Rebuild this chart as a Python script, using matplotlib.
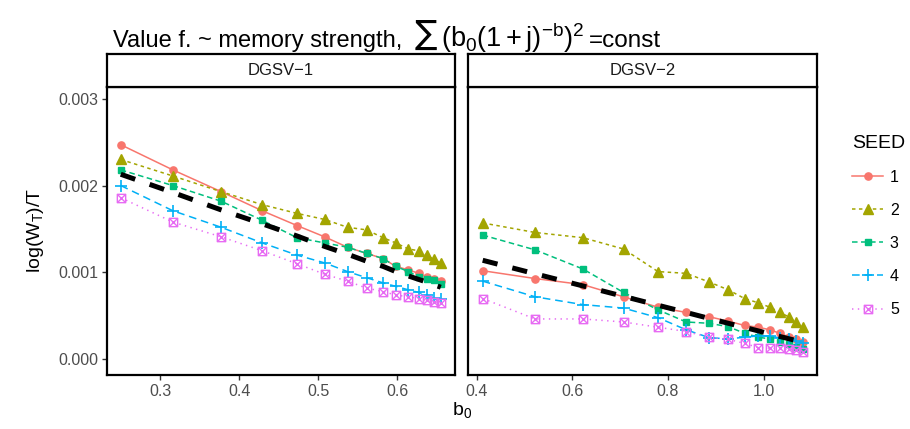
import matplotlib
matplotlib.use("Agg")
import matplotlib.pyplot as plt
from matplotlib.path import Path

plt.rcParams["font.family"] = ["Liberation Sans", "DejaVu Sans"]
plt.rcParams["mathtext.fontset"] = "custom"
plt.rcParams["mathtext.rm"] = "Liberation Sans"
plt.rcParams["mathtext.it"] = "Liberation Sans:italic"
plt.rcParams["mathtext.bf"] = "Liberation Sans:bold"
plt.rcParams["lines.scale_dashes"] = False

# values (y in units of 1e-3)
seeds = ["1", "2", "3", "4", "5"]
panels = ["DGSV\u22121", "DGSV\u22122"]

b0_dgsv1 = [0.250, 0.316, 0.377, 0.429, 0.473, 0.508, 0.537, 0.561,
            0.582, 0.598, 0.614, 0.627, 0.637, 0.646, 0.655]
b0_dgsv2 = [0.4125, 0.522, 0.622, 0.707, 0.779, 0.838, 0.886, 0.926,
            0.960, 0.989, 1.013, 1.034, 1.052, 1.068, 1.082]

dgsv1_seed1 = [2.47, 2.18, 1.93, 1.71, 1.54, 1.41, 1.29, 1.22, 1.16, 1.07, 1.03, 0.99, 0.95, 0.93, 0.90]
dgsv1_seed2 = [2.30, 2.11, 1.93, 1.78, 1.68, 1.61, 1.52, 1.49, 1.40, 1.34, 1.27, 1.25, 1.20, 1.15, 1.11]
dgsv1_seed3 = [2.18, 2.00, 1.82, 1.60, 1.40, 1.34, 1.29, 1.22, 1.16, 1.07, 1.01, 0.95, 0.93, 0.91, 0.87]
dgsv1_seed4 = [2.00, 1.71, 1.52, 1.34, 1.20, 1.11, 1.01, 0.94, 0.88, 0.84, 0.80, 0.77, 0.74, 0.71, 0.69]
dgsv1_seed5 = [1.86, 1.58, 1.41, 1.25, 1.10, 0.98, 0.90, 0.82, 0.78, 0.74, 0.72, 0.70, 0.68, 0.66, 0.65]
dgsv1_ref = [2.13, 1.92, 1.72, 1.56, 1.42, 1.30, 1.21, 1.13, 1.07, 1.01, 0.96, 0.92, 0.89, 0.86, 0.83]

dgsv2_seed1 = [1.02, 0.93, 0.86, 0.72, 0.60, 0.54, 0.49, 0.44, 0.39, 0.37, 0.34, 0.30, 0.26, 0.23, 0.20]
dgsv2_seed2 = [1.57, 1.46, 1.40, 1.27, 1.01, 0.99, 0.89, 0.80, 0.70, 0.65, 0.60, 0.54, 0.49, 0.43, 0.37]
dgsv2_seed3 = [1.43, 1.26, 1.04, 0.77, 0.57, 0.43, 0.415, 0.376, 0.30, 0.255, 0.235, 0.20, 0.175, 0.145, 0.12]
dgsv2_seed4 = [0.90, 0.72, 0.63, 0.59, 0.48, 0.34, 0.25, 0.235, 0.255, 0.27, 0.27, 0.245, 0.23, 0.21, 0.19]
dgsv2_seed5 = [0.70, 0.465, 0.465, 0.43, 0.37, 0.32, 0.254, 0.23, 0.184, 0.135, 0.13, 0.125, 0.115, 0.105, 0.09]
dgsv2_ref = [1.14, 0.985, 0.845, 0.725, 0.623, 0.540, 0.471, 0.415, 0.368, 0.327, 0.292, 0.263, 0.238, 0.216, 0.196]

colors = ["#F8766D", "#A3A500", "#00BF7D", "#00B0F6", "#E76BF3"]

# square with a cross in it (ggplot shape 7)
sq_cross = Path(
    [(-1, -1), (1, -1), (1, 1), (-1, 1), (-1, -1), (-1, -1), (1, 1), (-1, 1), (1, -1)],
    [Path.MOVETO, Path.LINETO, Path.LINETO, Path.LINETO, Path.CLOSEPOLY,
     Path.MOVETO, Path.LINETO, Path.MOVETO, Path.LINETO],
)
styles = [
    dict(ls="-", marker="o", ms=5.2),
    dict(ls=(0, (2.5, 2.5)), marker="^", ms=6.8),
    dict(ls=(0, (4.0, 2.5)), marker="s", ms=5.0),
    dict(ls=(0, (5.5, 3.5)), marker="+", ms=8.0, mew=1.2),
    dict(ls=(0, (1.0, 3.2)), marker=sq_cross, ms=6.0, mfc="none", mew=1.0),
]

W, H = 910, 429
fig = plt.figure(figsize=(W / 100, H / 100), dpi=100)

def fx(px):
    return px / W

def fy(py):
    return 1 - py / H

panel_x = [(106.7, 455.0), (468.3, 816.6)]
top, bottom, strip_top = 86.5, 375.0, 54.0
xlims = [(0.2322, 0.673), (0.3824, 1.1106)]
xticks = [[0.3, 0.4, 0.5, 0.6], [0.4, 0.6, 0.8, 1.0]]
xs = [b0_dgsv1, b0_dgsv2]
data = [
    [dgsv1_seed1, dgsv1_seed2, dgsv1_seed3, dgsv1_seed4, dgsv1_seed5],
    [dgsv2_seed1, dgsv2_seed2, dgsv2_seed3, dgsv2_seed4, dgsv2_seed5],
]
refs = [dgsv1_ref, dgsv2_ref]

handles = []
for i, (x0, x1) in enumerate(panel_x):
    ax = fig.add_axes([fx(x0), fy(bottom), fx(x1 - x0), (bottom - top) / H])
    for j, seed in enumerate(seeds):
        st = styles[j]
        ln, = ax.plot(
            xs[i], [v * 1e-3 for v in data[i][j]],
            color=colors[j], lw=1.1, ls=st["ls"], marker=st["marker"],
            ms=st["ms"], mfc=st.get("mfc", colors[j]), mec=colors[j],
            mew=st.get("mew", 1.0), label=seed, zorder=3,
        )
        if i == 0:
            handles.append(ln)
    ax.plot(xs[i], [v * 1e-3 for v in refs[i]], color="black", lw=3.6,
            ls=(0, (11, 11)), dash_capstyle="butt", zorder=4)
    ax.set_xlim(*xlims[i])
    ax.set_ylim(-0.00018, 0.00314)
    ax.set_xticks(xticks[i])
    ax.set_xticklabels([f"{t:.1f}" for t in xticks[i]])
    ax.set_yticks([0, 0.001, 0.002, 0.003])
    if i == 0:
        ax.set_yticklabels(["0.000", "0.001", "0.002", "0.003"])
        ax.tick_params(axis="y", length=3.5, width=1.0, color="#333333",
                       labelsize=11.5, labelcolor="#4D4D4D", pad=2.5)
    else:
        ax.tick_params(axis="y", left=False, labelleft=False)
    ax.tick_params(axis="x", length=3.5, width=1.0, color="#333333",
                   labelsize=11.5, labelcolor="#4D4D4D", pad=3)
    for s in ax.spines.values():
        s.set_linewidth(1.6)
        s.set_color("black")

    # facet strip
    sax = fig.add_axes([fx(x0), fy(top), fx(x1 - x0), (top - strip_top) / H])
    sax.set_xticks([])
    sax.set_yticks([])
    for s in sax.spines.values():
        s.set_linewidth(1.6)
        s.set_color("black")
    sax.text(0.5, 0.5, panels[i], ha="center", va="center", fontsize=12,
             color="#1A1A1A", transform=sax.transAxes)

fig.text(fx(35), fy(230), r"$\mathrm{log}(\mathrm{W}_\mathrm{T})/\mathrm{T}$",
         rotation=90, ha="center", va="center", fontsize=14)
fig.text(fx(462), fy(410), r"$\mathrm{b}_0$", ha="center", va="center", fontsize=14)

# title in pieces so the summation sign can be drawn larger
renderer = fig.canvas.get_renderer()
base_y = fy(47)
t1 = fig.text(fx(113), base_y, "Value f. ~ memory strength,", ha="left",
              va="baseline", fontsize=17)
x_next = t1.get_window_extent(renderer).x1 + 12
t2 = fig.text(x_next / W, base_y + 3 / H, "\u2211", ha="left", va="baseline",
              fontsize=24, family=["DejaVu Sans"])
x_next = t2.get_window_extent(renderer).x1 + 4
t3 = fig.text(x_next / W, base_y,
              r"$(\mathrm{b}_0(1+\mathrm{j})^{-\mathrm{b}})^2$",
              ha="left", va="baseline", fontsize=19.5)
x_next = t3.get_window_extent(renderer).x1 + 5
fig.text(x_next / W, base_y, "=const", ha="left", va="baseline", fontsize=17.5)

fig.legend(handles, seeds, title="SEED", loc="upper left",
           bbox_to_anchor=(fx(846), fy(128.5)), frameon=False, fontsize=11.5,
           title_fontsize=14, handlelength=1.9, handletextpad=0.45,
           labelspacing=1.13, alignment="left", borderaxespad=0)

fig.savefig("out.png", dpi=100)
